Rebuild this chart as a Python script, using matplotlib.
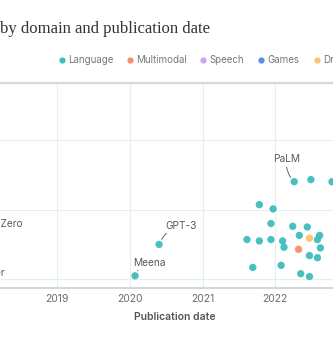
import matplotlib
matplotlib.use("Agg")
import matplotlib.pyplot as plt
from matplotlib.lines import Line2D
import numpy as np

# data (publication year as decimal, log10 of training FLOP)
language_dates = [2020.07, 2020.40, 2022.26, 2022.49, 2022.78, 2021.78, 2021.97,
                  2021.94, 2022.24, 2022.44, 2022.61, 2022.33, 2022.58, 2021.61,
                  2021.78, 2021.94, 2022.10, 2022.12, 2022.62, 2022.47, 2022.58,
                  2021.69, 2022.08, 2022.35, 2022.47]
language_logflop = [23.05, 23.50, 24.40, 24.43, 24.40, 24.07, 24.01,
                    23.80, 23.76, 23.75, 23.63, 23.63, 23.57, 23.57,
                    23.55, 23.57, 23.55, 23.46, 23.45, 23.34, 23.31,
                    23.17, 23.20, 23.08, 23.04]
multimodal_dates = [2022.32]
multimodal_logflop = [23.43]
speech_dates = []
speech_logflop = []
games_dates = [2017.80, 2017.05]
games_logflop = [23.53, 23.30]
drawing_dates = [2022.47]
drawing_logflop = [23.59]

domains = ["Language", "Multimodal", "Speech", "Games", "Drawing"]
colors = ["#3fbdbd", "#f98d6c", "#c8a6f2", "#5a8fe8", "#fbc271"]

# labelled models: name, date, log flop, text date, text log flop
labels = [("Meena", 2020.07, 23.05, 2020.27, 23.24),
          ("GPT-3", 2020.40, 23.50, 2020.70, 23.77),
          ("PaLM", 2022.26, 24.40, 2022.157, 24.72),
          ("AlphaGo Zero", 2017.80, 23.53, 2018.514, 23.79),
          ("AlphaGo Master", 2017.05, 23.30, 2018.28, 23.09)]

year_ticks = [2019, 2020, 2021, 2022]

sans = ["Inter", "DejaVu Sans"]

fig = plt.figure(figsize=(3.33, 3.6), dpi=100)
ax = fig.add_axes([0, 0.2, 1, 0.5694])

series = [(language_dates, language_logflop), (multimodal_dates, multimodal_logflop),
          (speech_dates, speech_logflop), (games_dates, games_logflop),
          (drawing_dates, drawing_logflop)]
for (d, f), c in zip(series, colors):
    if d:
        ax.scatter(d, 10 ** np.array(f), s=28, color=c, alpha=0.95,
                   edgecolors="none", zorder=3)

ax.set_yscale("log")
ax.set_yticks([1e23, 1e24, 1e25])
ax.minorticks_off()
ax.set_xticks(year_ticks)
ax.set_xticklabels([str(y) for y in year_ticks])
ax.set_xlim(2018.211, 2022.794)
ax.set_ylim(10 ** 22.875, 10 ** 25.816)
ax.tick_params(axis="both", length=0, labelsize=7.5, labelcolor="#6b6b6b", pad=4)
ax.tick_params(axis="y", labelleft=False)
for t in ax.get_xticklabels():
    t.set_family(sans)
ax.grid(True, color="#e4efef", lw=0.8, zorder=0)

for s in ["left", "right"]:
    ax.spines[s].set_visible(False)
ax.spines["top"].set_color("#d3d8db")
ax.spines["top"].set_linewidth(1.6)
ax.spines["bottom"].set_color("#c9ced2")
ax.spines["bottom"].set_linewidth(1.2)

ax.set_xlabel("Publication date", fontsize=7.5, color="#555555",
              fontweight="semibold", family=sans)
ax.xaxis.set_label_coords(0.526, -0.115)

for name, x, f, tx, tf in labels:
    ax.annotate(name, xy=(x, 10 ** f), xytext=(tx, 10 ** tf),
                ha="right" if name.startswith("AlphaGo") else "center",
                va="center", fontsize=7.3, color="#5a5a5a", family=sans,
                annotation_clip=False,
                arrowprops=dict(arrowstyle="-", color="#666666", lw=0.7,
                                shrinkA=0, shrinkB=4,
                                connectionstyle="arc3,rad=0.25"))

fig.text(0.0, 1 - 29 / 360, "by domain and publication date", family="Liberation Serif",
         fontsize=12, color="#333333", va="center", ha="left")

legend_x = [62, 130, 203, 261, 316.7]
for name, c, px in zip(domains, colors, legend_x):
    fig.add_artist(Line2D([px / 333], [1 - 60 / 360], marker="o", color=c,
                          markersize=4.5, markeredgewidth=0, linestyle="none",
                          transform=fig.transFigure))
    fig.text((px + 6) / 333, 1 - 60 / 360, name, family=sans, fontsize=7,
             color="#777777", va="center", ha="left")

fig.savefig("out.png", dpi=100)
